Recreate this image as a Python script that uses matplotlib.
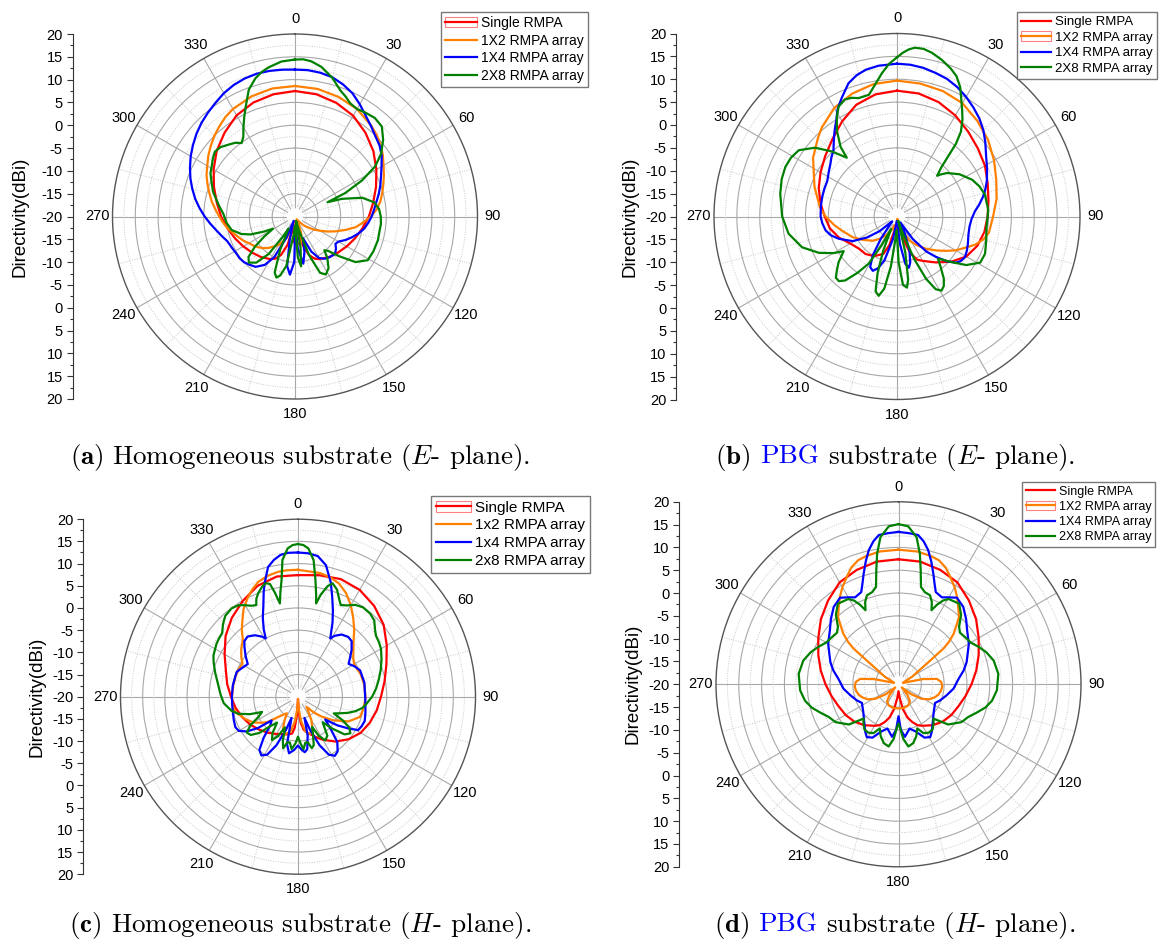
import numpy as np
import matplotlib
matplotlib.use('Agg')
import matplotlib.pyplot as plt
from matplotlib.patches import Rectangle
from matplotlib.legend_handler import HandlerTuple
from matplotlib.ticker import MultipleLocator, FuncFormatter

plt.rcParams['font.family'] = ['Liberation Sans', 'DejaVu Sans']
plt.rcParams['mathtext.fontset'] = 'cm'
plt.rcParams['axes.unicode_minus'] = False

# ---- data: (angle in deg, directivity in dBi) ----
names_upper = ['Single RMPA', '1X2 RMPA array', '1X4 RMPA array', '2X8 RMPA array']
names_lower = ['Single RMPA', '1x2 RMPA array', '1x4 RMPA array', '2x8 RMPA array']

# (a) homogeneous, E-plane
a_single = [(0,7.5),(10,7.2),(20,6.5),(30,5.5),(40,4.0),(50,2.4),(60,0.6),(70,-1.1),(80,-2.6),(90,-3.8),(100,-5.0),(110,-6.0),(120,-6.9),(130,-7.7),(140,-8.4),(150,-9.2),(155,-9.8),(160,-11.0),(165,-13.5),(170,-17.0),(174,-17.5),(178,-14.5),(180,-14.0),(182,-14.5),(186,-17.5),(190,-17.0),(195,-13.5),(200,-11.0),(205,-9.8),(210,-9.2),(220,-8.4),(230,-7.7),(240,-6.9),(250,-6.0),(260,-5.0),(270,-3.8),(280,-2.6),(290,-1.1),(300,0.6),(310,2.4),(320,4.0),(330,5.6),(340,6.6),(350,7.2)]
a_1x2 = [(0,8.6),(10,8.4),(20,7.9),(30,7.2),(40,6.0),(45,5.3),(50,4.5),(55,3.5),(60,2.4),(65,1.5),(70,0.6),(75,-0.2),(80,-1.0),(85,-2.0),(90,-3.4),(95,-5.0),(100,-6.5),(105,-8.6),(110,-10.5),(115,-12.2),(120,-13.8),(125,-15.0),(130,-16.3),(135,-17.2),(140,-18.2),(145,-19.0),(150,-19.3),(155,-18.0),(160,-16.0),(165,-14.5),(170,-13.6),(175,-14.5),(180,-17.0),(185,-19.0),(190,-19.0),(195,-17.5),(200,-15.5),(205,-14.0),(210,-12.8),(215,-12.0),(220,-11.0),(225,-10.2),(230,-9.5),(235,-8.9),(240,-8.3),(245,-7.5),(250,-6.8),(255,-6.0),(260,-5.0),(265,-4.2),(270,-3.4),(275,-2.5),(280,-1.5),(285,-0.6),(290,0.4),(295,1.4),(300,2.2),(305,3.2),(310,4.1),(315,5.0),(320,5.8),(325,6.6),(330,7.2),(340,8.0),(350,8.5)]
a_1x4 = [(0,12.2),(5,12.2),(10,12.0),(15,11.6),(20,10.8),(25,9.8),(30,8.4),(35,7.0),(40,5.9),(45,4.9),(50,4.2),(55,3.2),(60,1.9),(65,0.8),(70,-0.1),(75,-1.0),(80,-1.9),(85,-2.6),(90,-3.2),(95,-3.9),(100,-4.6),(105,-5.6),(110,-6.7),(115,-7.8),(120,-9.0),(124,-9.3),(128,-8.6),(133,-8.0),(140,-8.3),(145,-8.7),(150,-9.5),(155,-11.5),(160,-15.0),(165,-12.0),(170,-9.5),(175,-13.0),(178,-18.0),(181,-10.0),(185,-7.2),(189,-9.0),(193,-15.0),(197,-19.0),(202,-15.0),(207,-10.0),(212,-7.5),(218,-6.0),(223,-5.5),(228,-5.0),(233,-4.8),(238,-4.8),(243,-4.6),(250,-4.2),(255,-3.4),(260,-2.5),(265,-1.4),(270,-0.2),(275,1.0),(280,2.2),(285,3.3),(290,4.4),(295,5.4),(300,6.4),(305,7.3),(310,8.2),(315,9.0),(320,9.7),(325,10.4),(330,11.2),(335,11.8),(340,12.2),(345,12.4),(350,12.4),(355,12.3)]
a_2x8 = [(0,14.4),(3,14.5),(6,14.2),(10,13.3),(15,11.5),(20,9.3),(23,8.5),(26,7.6),(30,7.2),(34,7.5),(39,7.8),(44,7.4),(49,5.6),(54,3.3),(58,0.7),(61.7,-3.3),(65,-7.9),(66.3,-12.2),(69.4,-9.0),(74.4,-4.7),(80,-2.3),(85,-1.5),(90,-1.2),(95,-1.1),(100,-1.2),(106,-1.1),(114,-1.2),(121,-1.4),(127,-3.4),(132,-7.0),(136,-9.5),(139,-10.2),(142,-8.5),(147,-6.5),(152,-5.6),(156,-6.5),(160,-11.0),(164,-17.0),(167,-19.0),(170,-13.0),(173,-9.0),(176,-11.0),(180,-18.0),(184,-16.0),(190,-9.0),(194,-6.7),(197,-6.0),(200,-7.0),(204,-12.0),(208,-17.0),(211,-15.0),(215,-10.0),(220,-6.8),(225,-5.7),(229,-6.5),(233,-9.0),(237,-12.0),(241,-14.5),(244,-12.5),(248,-9.5),(252,-7.6),(258,-5.8),(265,-4.9),(272,-4.3),(278,-3.2),(282,-2.4),(287,-1.2),(292,-0.3),(297,0.8),(301,1.3),(305,2.0),(309,2.6),(313,2.3),(317,1.5),(321,0.8),(324,-0.1),(327,0.8),(330,2.6),(333,4.5),(336,6.5),(340,9.6),(344,11.5),(347,12.5),(350,13.2),(355,14.1)]

# (b) PBG, E-plane
b_single = [(0,7.5),(10,7.3),(20,6.6),(30,5.5),(40,4.2),(50,3.1),(60,2.2),(70,1.1),(80,0.3),(90,-0.2),(100,-0.6),(110,-1.3),(120,-2.5),(130,-4.6),(140,-6.9),(150,-8.8),(155,-9.6),(160,-11.5),(165,-15.0),(170,-18.0),(175,-17.0),(178,-15.5),(180,-15.0),(182,-16.0),(185,-18.0),(190,-17.0),(195,-13.5),(200,-11.3),(210,-10.0),(220,-9.3),(230,-9.1),(240,-8.2),(250,-6.5),(260,-5.1),(270,-4.2),(280,-3.0),(290,-1.8),(300,-0.7),(310,0.5),(320,2.0),(330,4.0),(340,6.0),(350,7.1)]
b_1x2 = [(0,9.7),(10,9.5),(20,9.2),(30,8.6),(40,7.3),(50,6.0),(60,4.5),(70,3.1),(80,2.1),(90,1.0),(100,0.4),(105,-0.5),(110,-1.9),(114,-3.4),(120,-5.2),(125,-6.9),(131,-8.7),(138,-10.5),(145,-12.3),(153,-14.1),(160,-16.5),(165,-18.5),(170,-19.5),(180,-19.0),(185,-18.0),(189,-16.8),(193,-17.5),(197,-18.0),(201,-17.0),(205,-16.2),(210,-15.3),(218,-13.8),(225,-12.5),(236,-10.9),(245,-9.3),(255,-7.7),(262,-6.2),(270,-4.4),(277,-3.0),(284,-2.0),(290,-0.8),(297,0.4),(305,2.4),(315,4.4),(320,5.5),(330,7.4),(340,8.6),(350,9.4)]
b_1x4 = [(0,13.4),(5,13.3),(10,13.0),(15,12.5),(20,12.0),(25,11.2),(30,10.2),(35,9.1),(40,8.0),(45,6.7),(50,5.2),(56,3.5),(62,2.3),(68,1.2),(73,0.2),(77,-0.7),(82,-1.9),(86,-2.9),(92,-3.7),(98,-4.0),(104,-3.9),(111,-3.4),(116,-3.0),(121,-2.7),(125,-3.0),(128,-3.6),(132,-5.4),(136,-7.7),(140,-10.0),(145,-14.0),(150,-18.5),(155,-16.0),(160,-12.0),(164,-9.5),(167,-8.5),(170,-9.5),(174,-14.0),(178,-19.0),(183,-19.0),(190,-15.0),(196,-10.0),(200,-8.0),(204,-7.0),(208,-7.5),(212,-10.0),(216,-14.0),(220,-17.5),(225,-18.5),(230,-15.0),(235,-12.0),(241,-8.9),(249,-6.4),(254,-5.0),(259,-4.1),(265,-3.6),(270,-3.3),(278,-3.2),(285,-3.1),(291,-3.0),(297,-2.9),(303,-2.2),(308,-1.5),(312,-0.7),(316,0.0),(320,1.5),(324,3.2),(328,5.0),(331,6.8),(335,8.6),(340,11.0),(344,12.1),(348,12.8),(353,13.2)]
b_2x8 = [(0,14.8),(2,15.8),(4,16.6),(6,17.1),(9,17.1),(12,16.6),(16,15.6),(20,14.4),(23,13.3),(26,11.5),(28,9.8),(31,7.6),(34,5.6),(37,3.2),(39,0.5),(40.5,-3.0),(42,-5.5),(44.5,-7.5),(46,-6.8),(49,-5.5),(56,-3.5),(64,-1.7),(70,-0.8),(76,-0.2),(86,0.0),(97,-0.3),(105,0.2),(113,0.9),(119,0.8),(125,-1.5),(130,-4.5),(134,-6.5),(136,-7.1),(139,-5.5),(143,-3.0),(146,-1.7),(149,-1.1),(152,-2.0),(155,-5.0),(158,-10.0),(161,-16.0),(164,-19.0),(167,-12.0),(170,-6.0),(172,-4.3),(175,-5.0),(178,-10.0),(181,-17.0),(184,-15.0),(187,-9.0),(190,-4.0),(193,-2.2),(196,-3.0),(199,-7.0),(202,-12.0),(205,-17.0),(208,-13.0),(211,-8.0),(215,-5.0),(219,-2.0),(222,-1.0),(225,-1.1),(228,-2.3),(232,-3.8),(237,-6.1),(240,-4.0),(245,-1.2),(252,1.8),(261,4.0),(270,5.1),(281,6.0),(288,6.5),(294,6.7),(299,6.5),(304,5.9),(310,3.4),(315,0.1),(319.5,-3.1),(321,-0.4),(325,2.9),(329,5.5),(332,7.2),(336,8.0),(339,7.8),(342,7.2),(347,7.3),(351,9.5),(354,11.5),(357,13.4),(359,14.3)]

# (c) homogeneous, H-plane
c_single = [(0,7.4),(10,7.8),(20,8.2),(30,7.8),(40,6.7),(50,5.2),(60,3.1),(70,1.2),(80,-0.2),(90,-1.3),(100,-2.0),(110,-2.8),(120,-3.7),(130,-5.1),(140,-6.8),(150,-8.8),(155,-9.8),(160,-10.8),(165,-11.5),(170,-12.4),(174,-14.0),(177,-16.5),(180,-19.5),(183,-16.0),(186,-13.0),(189,-11.6),(195,-11.2),(200,-11.0),(210,-10.3),(220,-9.4),(230,-8.5),(240,-7.5),(250,-6.6),(260,-5.7),(270,-4.9),(280,-3.8),(290,-2.7),(300,-0.9),(310,1.3),(320,3.2),(330,4.9),(340,6.6),(350,7.5)]
c_1x2 = [(0,8.6),(10,8.3),(15,7.9),(20,7.1),(25,5.7),(30,3.8),(35,1.7),(40,-0.3),(45,-2.3),(50,-3.7),(55,-4.8),(60,-5.4),(65,-5.3),(70,-5.0),(80,-4.8),(90,-4.8),(95,-4.9),(100,-5.0),(108,-5.3),(116,-7.3),(124,-10.5),(130,-13.0),(135,-15.0),(140,-17.0),(145,-16.0),(150,-14.0),(156,-12.0),(162,-11.2),(168,-12.0),(173,-14.5),(177,-17.5),(180,-19.5),(183,-17.5),(187,-14.5),(192,-12.0),(199,-11.0),(205,-12.0),(210,-14.0),(214,-15.5),(218,-15.0),(224,-13.7),(230,-11.2),(234,-10.0),(240,-8.4),(247,-7.1),(256,-5.5),(262,-5.1),(270,-5.1),(280,-5.2),(288,-5.2),(295,-5.3),(301,-5.4),(305,-4.4),(310,-3.3),(316,-2.1),(320,-0.3),(324,1.3),(328,3.2),(333,5.0),(337,6.3),(341,7.4),(346,8.1),(351,8.5),(355,8.6)]
c_1x4 = [(0,12.5),(4,12.4),(8,12.0),(12,10.3),(16,6.8),(19,3.7),(22,1.0),(25,-1.6),(27,-3.5),(29,-5.0),(31,-4.0),(35,-2.9),(40,-2.4),(44,-2.6),(49,-4.0),(53,-5.3),(57,-6.4),(62,-5.5),(67,-4.8),(78,-4.7),(93,-4.8),(103,-4.4),(110,-4.0),(115,-4.2),(119,-4.5),(122,-6.4),(126,-9.0),(130,-12.0),(134,-10.0),(139,-6.5),(144,-4.8),(148,-4.3),(152,-5.2),(156,-8.0),(160,-12.0),(163,-15.0),(166,-11.0),(170,-8.0),(173,-7.4),(176,-8.0),(180,-9.0),(184,-8.0),(189,-7.1),(193,-9.0),(197,-15.0),(200,-12.0),(204,-8.0),(208,-5.2),(212,-4.4),(216,-5.2),(220,-8.0),(224,-11.0),(228,-12.0),(232,-8.5),(236,-6.0),(240,-4.6),(244,-4.3),(250,-4.6),(260,-5.0),(270,-5.1),(280,-5.1),(292,-5.1),(297,-5.8),(303,-6.5),(308,-5.0),(313,-3.5),(316,-2.6),(320,-2.3),(325,-3.1),(329,-4.2),(331,-5.0),(333,-3.0),(336,-0.5),(339,1.8),(342,5.0),(344,7.0),(347,10.0),(350,11.3),(353,12.2),(356,12.5)]
c_2x8 = [(0,14.4),(2,14.2),(4,13.5),(6.5,11.0),(8.5,6.6),(10,3.5),(11,1.4),(12.5,3.5),(15,5.8),(17,6.7),(20,5.7),(23,3.8),(25,2.8),(28,3.3),(32,4.4),(36,4.9),(41,4.8),(45,4.3),(49,3.0),(52,2.3),(56,2.0),(60,1.6),(66,0.6),(72,-0.4),(78,-1.4),(84,-2.3),(90,-3.3),(96,-4.5),(100,-5.3),(104,-6.6),(108,-8.2),(112,-10.0),(115,-11.1),(118,-8.5),(121,-6.5),(125,-5.6),(129,-6.5),(133,-9.5),(136,-12.0),(139,-11.0),(143,-9.0),(148,-8.4),(152,-10.0),(155,-12.5),(158,-11.0),(162,-8.5),(165,-8.0),(168,-9.5),(171,-9.5),(174,-8.1),(177,-9.5),(180,-11.0),(183,-9.5),(187,-8.1),(190,-9.5),(193,-9.5),(196,-7.9),(199,-9.5),(203,-12.5),(207,-10.0),(211,-8.6),(215,-10.0),(219,-12.5),(223,-11.0),(227,-8.0),(231,-6.3),(235,-5.9),(239,-7.5),(243,-10.0),(247,-11.2),(250,-8.5),(254,-6.0),(258,-4.7),(265,-3.2),(272,-2.5),(277,-2.0),(286,-0.6),(292,0.5),(296,1.2),(303,1.9),(306,2.1),(310,2.3),(314,3.5),(318,4.5),(323,4.9),(327,4.6),(330,3.8),(333,3.0),(335.5,2.7),(337,4.0),(339,5.0),(342,6.1),(344,6.6),(346,6.2),(347.5,4.0),(349,1.4),(350.5,4.0),(352,6.6),(353.5,11.0),(356,13.5),(358,14.2)]

# (d) PBG, H-plane
d_single = [(0,7.4),(10,7.3),(20,6.7),(30,5.8),(40,4.0),(50,2.2),(60,0.3),(70,-1.3),(80,-2.7),(90,-4.0),(100,-5.1),(110,-6.0),(120,-6.6),(130,-7.3),(140,-8.3),(150,-9.5),(155,-10.1),(160,-11.2),(165,-12.5),(170,-14.5),(175,-17.0),(180,-18.5),(185,-17.0),(190,-14.5),(195,-12.5),(200,-11.2),(205,-10.1),(210,-9.5),(220,-8.3),(230,-7.3),(240,-6.6),(250,-6.0),(260,-5.1),(270,-4.0),(280,-2.7),(290,-1.3),(300,0.3),(310,2.2),(320,4.0),(330,5.8),(340,6.7),(350,7.3)]
d_1x2 = [(0,9.5),(8,9.4),(14,9.0),(18,8.6),(22,7.6),(25,6.4),(30,4.6),(34,3.0),(38,1.3),(42,-0.2),(45,-2.2),(47.5,-3.6),(50,-5.6),(51.5,-7.4),(53.5,-11.8),(56,-14.5),(61,-16.6),(66,-18.5),(72,-19.0),(78,-14.5),(82,-11.5),(87,-10.6),(93,-10.4),(99,-10.6),(105,-11.0),(110,-11.6),(116,-12.5),(122,-14.0),(128,-16.5),(134,-19.0),(140,-17.0),(146,-15.5),(155,-14.9),(167,-14.7),(180,-14.7),(193,-14.7),(205,-14.9),(214,-15.5),(220,-17.0),(226,-19.0),(232,-16.5),(238,-14.0),(244,-12.5),(250,-11.6),(255,-11.0),(261,-10.6),(267,-10.4),(273,-10.6),(278,-11.5),(282,-14.5),(288,-19.0),(294,-18.5),(299,-16.6),(304,-14.5),(306.5,-11.8),(308.5,-7.4),(310,-5.6),(312.5,-3.6),(315,-2.2),(318,-0.2),(322,1.3),(326,3.0),(330,4.6),(335,6.4),(338,7.6),(342,8.6),(346,9.0),(352,9.4)]
d_1x4 = [(0,13.4),(4,13.2),(7.5,13.0),(10,11.8),(12.5,10.1),(15,7.8),(17.5,5.4),(20,3.2),(22,1.8),(26.5,1.3),(30,2.0),(34,2.9),(40,2.1),(46,0.6),(52,-0.9),(60,-2.2),(66,-3.4),(72,-4.3),(78,-5.4),(85,-6.8),(94.5,-7.9),(103,-9.2),(111,-10.2),(117,-11.0),(128,-10.2),(139,-8.6),(145,-7.3),(149,-6.5),(154,-7.0),(160,-9.0),(166,-10.0),(173,-8.4),(177,-10.0),(180,-13.0),(183,-10.0),(187,-8.4),(194,-10.0),(200,-9.0),(206,-7.0),(211,-6.5),(215,-7.3),(221,-8.6),(232,-10.2),(243,-11.0),(249,-10.2),(257,-9.2),(265.5,-7.9),(275,-6.8),(282,-5.4),(288,-4.3),(294,-3.4),(300,-2.2),(308,-0.9),(314,0.6),(320,2.1),(326,2.9),(330,2.0),(333.5,1.3),(338,1.8),(340,3.2),(342.5,5.4),(345,7.8),(347.5,10.1),(350,11.8),(352.5,13.0),(356,13.2)]
d_2x8 = [(0,15.1),(3.5,14.7),(7,12.5),(9.3,9.0),(11,5.5),(13,1.9),(16,1.0),(19.5,0.7),(22,-0.5),(24,-2.2),(26,-0.5),(28,0.8),(30.5,1.7),(37,2.1),(42,0.5),(46.5,-1.7),(50,-2.4),(55,-2.1),(60,-1.7),(65,-0.6),(70,0.5),(76,1.5),(84,2.0),(93.5,1.6),(100,0.8),(105,-0.3),(110,-1.8),(115,-3.1),(121,-3.9),(129,-6.0),(132,-8.0),(134.5,-9.3),(138,-8.5),(143,-7.6),(148,-7.5),(153,-8.0),(157,-9.5),(161,-8.0),(166,-6.7),(171,-6.2),(175,-8.0),(178,-10.5),(180,-11.4),(182,-10.5),(185,-8.0),(189,-6.2),(194,-6.7),(199,-8.0),(203,-9.5),(207,-8.0),(212,-7.5),(217,-7.6),(222,-8.5),(225.5,-9.3),(228,-8.0),(231,-6.0),(239,-3.9),(245,-3.1),(250,-1.8),(255,-0.3),(260,0.8),(266.5,1.6),(276,2.0),(284,1.5),(290,0.5),(295,-0.6),(300,-1.7),(305,-2.1),(310,-2.4),(313.5,-1.7),(318,0.5),(323,2.1),(329.5,1.7),(332,0.8),(334,-0.5),(336,-2.2),(338,-0.5),(340.5,0.7),(344,1.0),(347,1.9),(349,5.5),(350.7,9.0),(353,12.5),(356.5,14.7)]

colors = ['#ff0000', '#ff8000', '#0000ff', '#008000']

W, H = 1159, 943
fig = plt.figure(figsize=(W / 100, H / 100), dpi=100)


def panel(cx, cy, R, spine_x, label_x, curves, names, leg, leg_fs, boxed):
    ax = fig.add_axes([(cx - R) / W, 1 - (cy + R) / H, 2 * R / W, 2 * R / H], projection='polar')
    ax.set_theta_zero_location('N')
    ax.set_theta_direction(-1)
    ax.set_ylim(-20, 20)
    ax.set_axisbelow(True)
    ax.set_xticks(np.deg2rad(np.arange(0, 360, 30)))
    ax.set_xticklabels([str(a) for a in range(0, 360, 30)], fontsize=10.5)
    ax.set_xticks(np.deg2rad(np.arange(15, 360, 30)), minor=True)
    ax.set_yticks(np.arange(-15, 20, 5))
    ax.set_yticks(np.arange(-17.5, 20, 5), minor=True)
    ax.set_yticklabels([])
    ax.tick_params(axis='both', which='both', length=0)
    ax.tick_params(axis='x', pad=4)
    ax.grid(True, which='major', color='#a8a8a8', lw=0.8, ls='-')
    ax.grid(True, which='minor', color='#c8c8c8', lw=0.7, ls=(0, (1, 1.5)))
    ax.spines['polar'].set_color('#555555')
    ax.spines['polar'].set_linewidth(1.0)
    ax.bar(0, 1.8, width=2 * np.pi, bottom=-20, color='white', zorder=1)

    lines = []
    for data, c in zip(curves, colors):
        ang = [p[0] for p in data] + [data[0][0] + 360]
        val = [p[1] for p in data] + [data[0][1]]
        ln, = ax.plot(np.deg2rad(ang), val, color=c, lw=1.6, zorder=3)
        lines.append(ln)

    # left scale 20 ... -20 ... 20
    ay = fig.add_axes([spine_x / W, 1 - (cy + R) / H, 0.0005, 2 * R / H])
    ay.set_ylim(-40, 40)
    for s in ['top', 'right', 'bottom']:
        ay.spines[s].set_visible(False)
    ay.spines['left'].set_color('#333333')
    ay.set_xticks([])
    ay.yaxis.set_major_locator(MultipleLocator(5))
    ay.yaxis.set_minor_locator(MultipleLocator(2.5))
    ay.yaxis.set_major_formatter(FuncFormatter(lambda v, p: '%d' % round(abs(v) - 20)))
    ay.tick_params(axis='y', which='major', length=4.5, width=0.8, labelsize=10.5, pad=2.5, color='#333333')
    ay.tick_params(axis='y', which='minor', length=2.3, width=0.8, color='#333333')
    ay.patch.set_visible(False)
    fig.text(label_x / W, 1 - cy / H, 'Directivity(dBi)', rotation=90, ha='center', va='center', fontsize=13.5)

    handles = list(lines)
    handles[boxed] = (Rectangle((0, 0), 1, 1, fill=False, edgecolor='#ff8080', lw=0.8), lines[boxed])
    lg = fig.legend(handles, names, loc='upper right', bbox_to_anchor=(leg[0] / W, 1 - leg[1] / H),
                    bbox_transform=fig.transFigure, fontsize=leg_fs, fancybox=False, edgecolor='#555555',
                    borderaxespad=0, handlelength=2.3, handletextpad=0.3, labelspacing=0.25, borderpad=0.3,
                    handler_map={tuple: HandlerTuple(ndivide=1, pad=0)})
    lg.get_frame().set_linewidth(1.0)
    return ax


panel(295, 216.5, 182.5, 72.5, 20, [a_single, a_1x2, a_1x4, a_2x8], names_upper, (588, 12), 10, 0)
panel(897, 216.5, 183, 676, 630, [b_single, b_1x2, b_1x4, b_2x8], names_upper, (1157, 12), 9.5, 1)
panel(298, 696.7, 177.5, 83, 37, [c_single, c_1x2, c_1x4, c_2x8], names_lower, (590, 496), 11, 0)
panel(898.5, 684.3, 182.5, 679, 633, [d_single, d_1x2, d_1x4, d_2x8], names_upper, (1155, 482), 9, 1)

# sub-captions (pieces so that PBG can be blue)
captions = [
    (300, 464, [(r'$\mathbf{(a)}$', 'black'), ('Homogeneous substrate ($E$- plane).', 'black')]),
    (895, 464, [(r'$\mathbf{(b)}$', 'black'), ('PBG', 'blue'), ('substrate ($E$- plane).', 'black')]),
    (300, 932, [(r'$\mathbf{(c)}$', 'black'), ('Homogeneous substrate ($H$- plane).', 'black')]),
    (895, 932, [(r'$\mathbf{(d)}$', 'black'), ('PBG', 'blue'), ('substrate ($H$- plane).', 'black')]),
]
cap_fs = 19.5
gap = 0.333 * cap_fs * 100 / 72
fig.canvas.draw()
renderer = fig.canvas.get_renderer()
for cx, y, parts in captions:
    ts = [fig.text(0, 1 - y / H, s, color=c, fontsize=cap_fs, family='cmr10', ha='left', va='baseline')
          for s, c in parts]
    widths = [t.get_window_extent(renderer).width for t in ts]
    total = sum(widths) + gap * (len(ts) - 1)
    x = cx - total / 2
    for t, w in zip(ts, widths):
        t.set_x(x / W)
        x += w + gap

fig.savefig('out.png', dpi=100)
